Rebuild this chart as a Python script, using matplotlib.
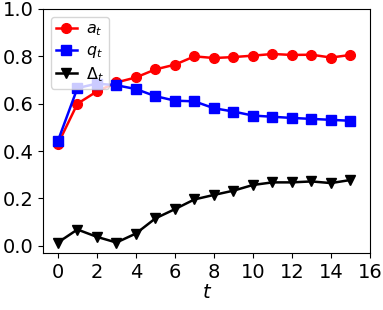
import matplotlib
matplotlib.use("Agg")
import matplotlib.pyplot as plt

t = list(range(16))
a_t = [0.43, 0.60, 0.652, 0.69, 0.711, 0.745, 0.765, 0.80, 0.793, 0.797,
       0.803, 0.81, 0.806, 0.807, 0.795, 0.806]
q_t = [0.443, 0.666, 0.685, 0.678, 0.662, 0.632, 0.613, 0.61, 0.581, 0.567,
       0.55, 0.545, 0.54, 0.536, 0.532, 0.528]
delta_t = [0.014, 0.069, 0.038, 0.014, 0.052, 0.116, 0.155, 0.196, 0.215, 0.233,
           0.257, 0.268, 0.268, 0.272, 0.265, 0.278]

plt.rcParams['font.size'] = 14

fig, ax = plt.subplots(figsize=(3.83, 3.10), dpi=100)
ax.plot(t, a_t, 'o-', color='red', markersize=7, linewidth=1.8, label='$a_t$')
ax.plot(t, q_t, 's-', color='blue', markersize=7, linewidth=1.8, label='$q_t$')
ax.plot(t, delta_t, 'v-', color='black', markersize=7, linewidth=1.8, label='$\\Delta_t$')

ax.set_xlim(-0.75, 16)
ax.set_ylim(-0.03, 1.0)
ax.set_xticks(range(0, 17, 2))
ax.set_xlabel('$t$', labelpad=1)
ax.legend(loc='upper left', fontsize=11.5, handlelength=1.3, borderaxespad=0.5,
          labelspacing=0.3, handletextpad=0.6, borderpad=0.3)

fig.subplots_adjust(left=0.113, right=0.966, top=0.971, bottom=0.184)
fig.savefig('out.png', dpi=100)
